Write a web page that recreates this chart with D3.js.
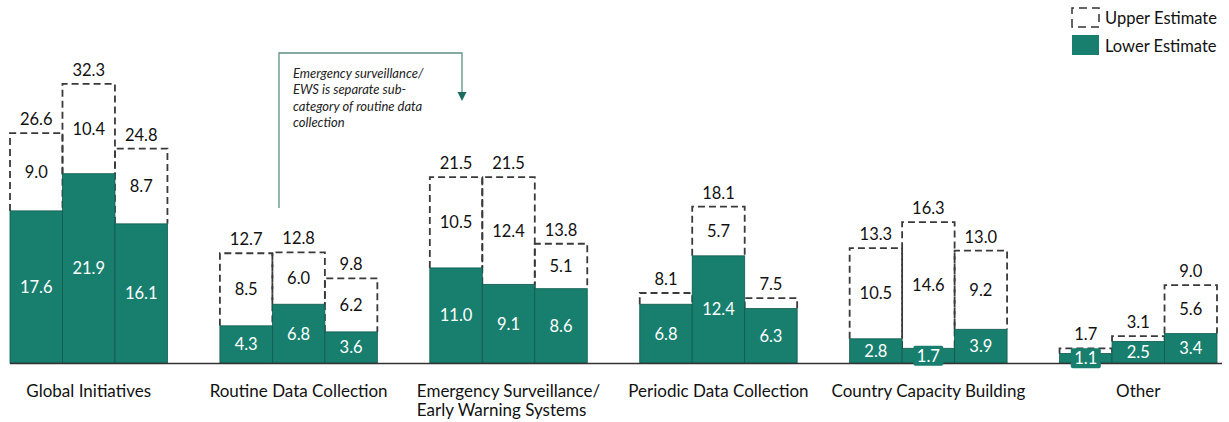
<!DOCTYPE html>
<html>
<head>
<meta charset="utf-8">
<script src="https://cdn.jsdelivr.net/npm/d3@7"></script>
<style>
  html, body { margin: 0; padding: 0; background: #fff; }
  svg { display: block; font-family: Lato, "Open Sans", sans-serif; }
</style>
</head>
<body>
<svg id="chart" width="1229" height="422"></svg>
<script>
const categories = [
  ["Global Initiatives"],
  ["Routine Data Collection"],
  ["Emergency Surveillance/", "Early Warning Systems"],
  ["Periodic Data Collection"],
  ["Country Capacity Building"],
  ["Other"]
];
const lowerValues = [
  [17.6, 21.9, 16.1],
  [4.3, 6.8, 3.6],
  [11.0, 9.1, 8.6],
  [6.8, 12.4, 6.3],
  [2.8, 1.7, 3.9],
  [1.1, 2.5, 3.4]
];
const upperValues = [
  [26.6, 32.3, 24.8],
  [12.7, 12.8, 9.8],
  [21.5, 21.5, 13.8],
  [8.1, 18.1, 7.5],
  [13.3, 16.3, 13.0],
  [1.7, 3.1, 9.0]
];
// range label shown inside the dashed part (null = not shown)
const rangeLabels = [
  ["9.0", "10.4", "8.7"],
  ["8.5", "6.0", "6.2"],
  ["10.5", "12.4", "5.1"],
  [null, "5.7", null],
  ["10.5", "14.6", "9.2"],
  [null, null, "5.6"]
];
const legendLabels = ["Upper Estimate", "Lower Estimate"];
const noteLines = ["Emergency surveillance/", "EWS is separate sub-", "category  of routine data", "collection"];

const TEAL = "#187f6e";
const svg = d3.select("#chart");

const x = d3.scaleBand()
  .domain(d3.range(categories.length))
  .range([10, 1217])
  .paddingInner(0.25)
  .paddingOuter(0);
const xi = d3.scaleBand().domain([0, 1, 2]).range([0, x.bandwidth()]).padding(0);
const y = d3.scaleLinear().domain([0, 42]).range([363, 0]);

const bars = [];
categories.forEach((c, g) => {
  for (let i = 0; i < 3; i++) {
    bars.push({ g, i, lo: lowerValues[g][i], up: upperValues[g][i], mid: rangeLabels[g][i] });
  }
});

const bx = d => x(d.g) + xi(d.i);
const bw = xi.bandwidth();

// dashed upper outlines
svg.append("g").selectAll("path").data(bars).join("path")
  .attr("d", d => {
    const x0 = bx(d), x1 = bx(d) + bw, yt = y(d.up), yb = y(d.lo);
    return `M${x0},${yb}V${yt}H${x1}V${yb}`;
  })
  .attr("fill", "none")
  .attr("stroke", "#3a3a3a")
  .attr("stroke-width", 1.8)
  .attr("stroke-dasharray", "7,4");

// lower bars
svg.append("g").selectAll("rect").data(bars).join("rect")
  .attr("x", bx)
  .attr("y", d => y(d.lo))
  .attr("width", bw)
  .attr("height", d => y(0) - y(d.lo))
  .attr("fill", TEAL)
  .attr("stroke", "#0f5a4d")
  .attr("stroke-width", 0.8);

// axis baseline
svg.append("g")
  .attr("transform", `translate(0,${y(0)})`)
  .call(d3.axisBottom(x).tickSize(0).tickFormat(""))
  .call(g => g.select(".domain").attr("stroke", "#333").attr("stroke-width", 1.5).attr("d", "M10,0.5H1222"));

// small-bar label boxes
const small = bars.filter(d => y(0) - y(d.lo) < 18);
svg.append("g").selectAll("rect").data(small).join("rect")
  .attr("x", d => bx(d) + bw / 2 - 15)
  .attr("y", d => (y(d.lo) + y(0)) / 2 - 10)
  .attr("width", 30)
  .attr("height", 20)
  .attr("rx", 2)
  .attr("fill", TEAL);

const fs = 16.5;
// lower labels
svg.append("g").selectAll("text").data(bars).join("text")
  .attr("x", d => bx(d) + bw / 2)
  .attr("y", d => (y(d.lo) + y(0)) / 2)
  .attr("dy", "0.36em")
  .attr("text-anchor", "middle")
  .attr("font-size", fs)
  .attr("fill", "#fff")
  .text(d => d.lo.toFixed(1));

// range labels
svg.append("g").selectAll("text").data(bars.filter(d => d.mid)).join("text")
  .attr("x", d => bx(d) + bw / 2)
  .attr("y", d => (y(d.lo) + y(d.up)) / 2)
  .attr("dy", "0.36em")
  .attr("text-anchor", "middle")
  .attr("font-size", fs)
  .attr("fill", "#111")
  .text(d => d.mid);

// total labels
svg.append("g").selectAll("text").data(bars).join("text")
  .attr("x", d => bx(d) + bw / 2)
  .attr("y", d => y(d.up) - 8)
  .attr("text-anchor", "middle")
  .attr("font-size", fs)
  .attr("fill", "#111")
  .text(d => d.up.toFixed(1));

// category labels
const cfs = 17;
const cat = svg.append("g").selectAll("text").data(categories).join("text")
  .attr("font-size", cfs)
  .attr("fill", "#111")
  .attr("y", 397);
cat.each(function (lines, g) {
  const t = d3.select(this);
  lines.forEach((l, k) => {
    t.append("tspan").attr("x", 0).attr("y", 397 + k * 19).text(l);
  });
  const w = d3.max(t.selectAll("tspan").nodes(), n => n.getComputedTextLength());
  const cx = x(g) + x.bandwidth() / 2;
  t.selectAll("tspan").attr("x", cx - w / 2);
});

// annotation
const ann = svg.append("g");
const ax0 = 279, ax1 = 462, ayTop = 53;
ann.append("path")
  .attr("d", `M${ax0},208V${ayTop}H${ax1}V94`)
  .attr("fill", "none")
  .attr("stroke", "#5e8f86")
  .attr("stroke-width", 1.3);
ann.append("path")
  .attr("d", `M${ax1 - 4.5},92L${ax1 + 4.5},92L${ax1},101Z`)
  .attr("fill", "#1d6b5e");
ann.append("text")
  .attr("font-size", 13)
  .attr("font-style", "italic")
  .attr("fill", "#222")
  .selectAll("tspan").data(noteLines).join("tspan")
  .attr("x", 293)
  .attr("y", (d, k) => 78 + k * 16.3)
  .text(d => d);

// legend
const leg = svg.append("g");
leg.append("path")
  .attr("d", "M1072,27V8H1099V27Z")
  .attr("fill", "none")
  .attr("stroke", "#333")
  .attr("stroke-width", 1.5)
  .attr("stroke-dasharray", "8,5");
leg.append("rect").attr("x", 1072).attr("y", 35).attr("width", 27).attr("height", 20).attr("fill", TEAL);
leg.selectAll("text").data(legendLabels).join("text")
  .attr("x", 1105)
  .attr("y", (d, k) => 18 + k * 28)
  .attr("dy", "0.36em")
  .attr("font-size", fs)
  .attr("fill", "#111")
  .text(d => d);
</script>
</body>
</html>
